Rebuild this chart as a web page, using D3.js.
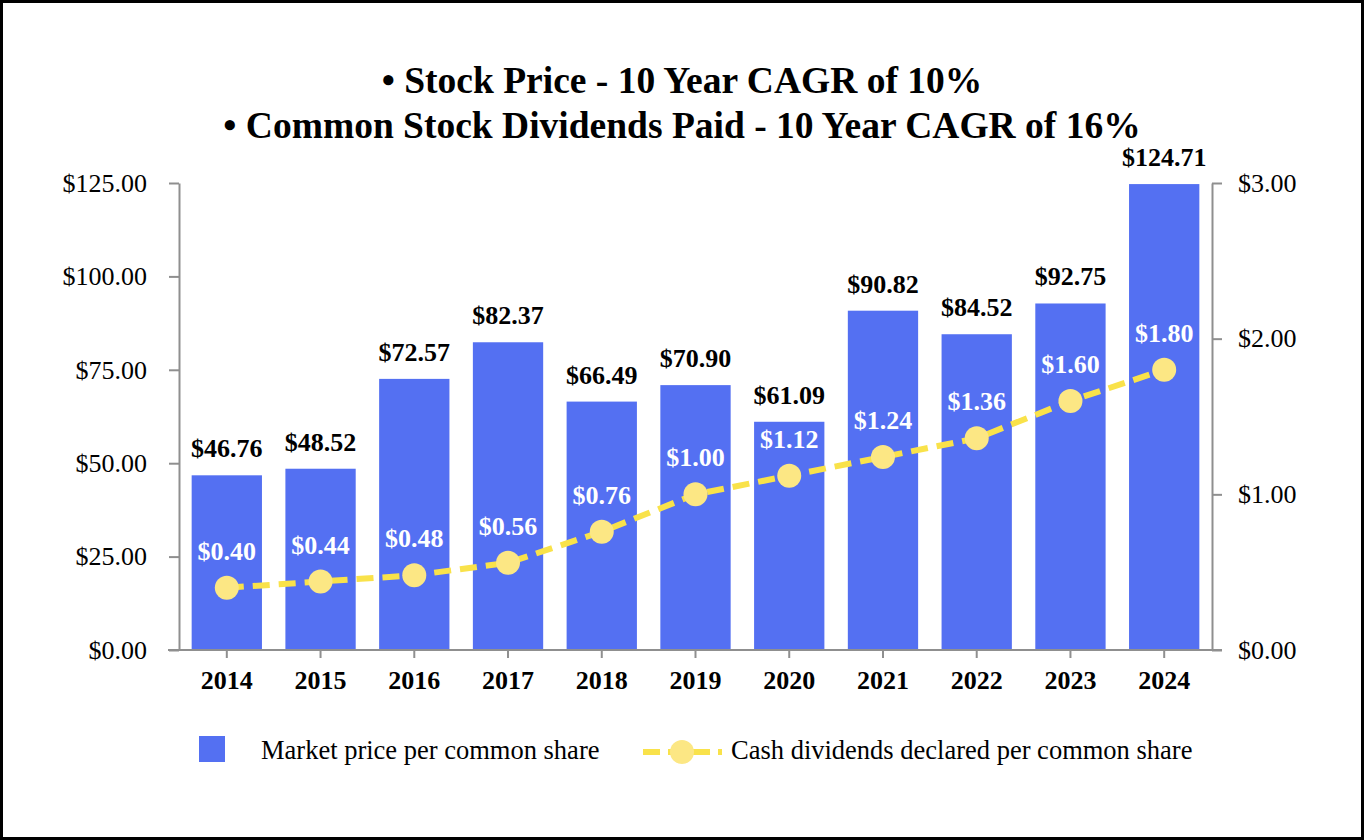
<!DOCTYPE html>
<html>
<head>
<meta charset="utf-8">
<script src="https://cdn.jsdelivr.net/npm/d3@7"></script>
<style>
  body { margin: 0; background: #fff; }
  svg { display: block; font-family: 'Liberation Serif', 'Times New Roman', serif; }
</style>
</head>
<body>
<svg id="chart" width="1364" height="840"></svg>
<script>
// chart data
const years = ['2014', '2015', '2016', '2017', '2018', '2019', '2020', '2021', '2022', '2023', '2024']
const marketPrice = [46.76, 48.52, 72.57, 82.37, 66.49, 70.90, 61.09, 90.82, 84.52, 92.75, 124.71]
const dividends = [0.40, 0.44, 0.48, 0.56, 0.76, 1.00, 1.12, 1.24, 1.36, 1.60, 1.80]
const leftTicks = [0, 25, 50, 75, 100, 125]
const rightTicks = [0, 1, 2, 3]
const titleLines = ['• Stock Price - 10 Year CAGR of 10%', '• Common Stock Dividends Paid - 10 Year CAGR of 16%']
const legendLabels = ['Market price per common share', 'Cash dividends declared per common share']

const barColor = '#5470f2'
const lineColor = '#f9e24a'
const dotColor = '#fce784'
const axisColor = '#8f8f8f'
const fontSize = 26

const svg = d3.select('#chart')
const margin = { top: 183, left: 179, right: 152, bottom: 190 }
const width = +svg.attr('width')
const height = +svg.attr('height')
const innerWidth = width - margin.left - margin.right
const innerHeight = height - margin.top - margin.bottom
const money = d => '$' + d3.format('.2f')(d)

// frame (stroke only)
svg.append('path')
  .attr('d', `M1.5,1.5H${ width - 1.5 }V${ height - 1.5 }H1.5Z`)
  .attr('fill', 'none')
  .attr('stroke', '#000')
  .attr('stroke-width', 3)

// title
svg.append('g')
  .selectAll('text')
  .data(titleLines)
  .enter()
  .append('text')
  .attr('x', width / 2)
  .attr('y', (d, i) => 93 + i * 45)
  .attr('text-anchor', 'middle')
  .attr('font-size', 37.5)
  .attr('font-weight', 'bold')
  .text(d => d)

const g = svg.append('g')
  .attr('transform', `translate(${ margin.left }, ${ margin.top })`)

// scales
const xScale = d3.scaleBand()
  .domain(years)
  .range([0, innerWidth])
  .paddingInner(0.25)
  .paddingOuter(0.135)
const yLeft = d3.scaleLinear()
  .domain([0, 125])
  .range([innerHeight, 0])
const yRight = d3.scaleLinear()
  .domain([0, 3])
  .range([innerHeight, 0])

// bars
g.append('g')
  .selectAll('rect')
  .data(marketPrice)
  .enter()
  .append('rect')
  .attr('x', (d, i) => xScale(years[i]))
  .attr('y', d => yLeft(d))
  .attr('width', xScale.bandwidth())
  .attr('height', d => innerHeight - yLeft(d))
  .attr('fill', barColor)

// axes
const styleAxis = sel => {
  sel.select('.domain').attr('stroke', axisColor).attr('stroke-width', 2)
  sel.selectAll('.tick line').attr('stroke', axisColor).attr('stroke-width', 2)
  sel.selectAll('.tick text')
    .attr('fill', '#000')
    .attr('font-family', "'Liberation Serif', 'Times New Roman', serif")
    .attr('font-size', fontSize)
}
const yAxisLeft = d3.axisLeft(yLeft)
  .tickValues(leftTicks)
  .tickSizeInner(10)
  .tickSizeOuter(0)
  .tickPadding(22)
  .tickFormat(money)
g.append('g')
  .call(yAxisLeft)
  .call(styleAxis)

const yAxisRight = d3.axisRight(yRight)
  .tickValues(rightTicks)
  .tickSizeInner(10)
  .tickSizeOuter(0)
  .tickPadding(16)
  .tickFormat(money)
g.append('g')
  .attr('transform', `translate(${ innerWidth }, 0)`)
  .call(yAxisRight)
  .call(styleAxis)

const xAxis = d3.axisBottom(xScale)
  .tickSizeInner(8)
  .tickSizeOuter(0)
  .tickPadding(13)
const xAxisG = g.append('g')
  .attr('transform', `translate(0, ${ innerHeight })`)
  .call(xAxis)
  .call(styleAxis)
xAxisG.select('.domain')
  .attr('d', `M-11,0H${ innerWidth + 10 }`)
xAxisG.selectAll('.tick text')
  .attr('font-weight', 'bold')

// bar value labels
g.append('g')
  .selectAll('text')
  .data(marketPrice)
  .enter()
  .append('text')
  .attr('x', (d, i) => xScale(years[i]) + xScale.bandwidth() / 2)
  .attr('y', d => yLeft(d) - 18)
  .attr('text-anchor', 'middle')
  .attr('font-size', fontSize)
  .attr('font-weight', 'bold')
  .text(money)

// dividend line
const cx = (d, i) => xScale(years[i]) + xScale.bandwidth() / 2
const line = d3.line()
  .x(cx)
  .y(d => yRight(d))
g.append('path')
  .datum(dividends)
  .attr('d', line)
  .attr('fill', 'none')
  .attr('stroke', lineColor)
  .attr('stroke-width', 6)
  .attr('stroke-dasharray', '17,9')

g.append('g')
  .selectAll('circle')
  .data(dividends)
  .enter()
  .append('circle')
  .attr('cx', cx)
  .attr('cy', d => yRight(d))
  .attr('r', 12)
  .attr('fill', dotColor)

g.append('g')
  .selectAll('text')
  .data(dividends)
  .enter()
  .append('text')
  .attr('x', cx)
  .attr('y', d => yRight(d) - 28)
  .attr('text-anchor', 'middle')
  .attr('font-size', fontSize)
  .attr('font-weight', 'bold')
  .attr('fill', '#fff')
  .text(money)

// legend
const legend = svg.append('g').attr('class', 'legend')
legend.append('rect')
  .attr('x', 199).attr('y', 736)
  .attr('width', 26).attr('height', 26)
  .attr('fill', barColor)
legend.append('text')
  .attr('x', 261).attr('y', 759)
  .attr('font-size', 26.5)
  .text(legendLabels[0])
legend.append('line')
  .attr('x1', 643).attr('x2', 722)
  .attr('y1', 752).attr('y2', 752)
  .attr('stroke', lineColor)
  .attr('stroke-width', 6)
  .attr('stroke-dasharray', '17,8')
legend.append('circle')
  .attr('cx', 682).attr('cy', 752)
  .attr('r', 12)
  .attr('fill', dotColor)
legend.append('text')
  .attr('x', 731).attr('y', 759)
  .attr('font-size', 26.5)
  .text(legendLabels[1])
</script>
</body>
</html>
